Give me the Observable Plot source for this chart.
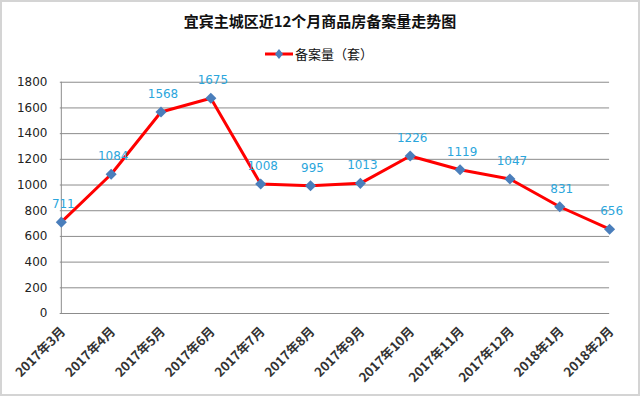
<!DOCTYPE html>
<html>
<head>
<meta charset="utf-8">
<script src="https://cdn.jsdelivr.net/npm/d3@7"></script>
<script src="https://cdn.jsdelivr.net/npm/@observablehq/plot@0.6"></script>
<style>
  body { margin: 0; background: #fff; }
  #wrap { position: relative; width: 640px; height: 396px; box-sizing: border-box; border: 2px solid #d4d4d4; overflow: hidden; background:#fff; }
  #chart { position: absolute; left: -2px; top: -2px; }
  #title { position: absolute; left: 0; width: 636px; top: 8px; text-align: center; font: bold 15px "Noto Sans CJK SC", sans-serif; color: #111; }
  #legend { position: absolute; left: 263px; top: 42px; font: 13px "Noto Sans CJK SC", sans-serif; color: #111; display: flex; align-items: center; }
  #legend svg { margin-right: 2px; }
</style>
</head>
<body>
<div id="wrap">
  <div id="chart"></div>
  <div id="title">宜宾主城区近12个月商品房备案量走势图</div>
  <div id="legend"><svg width="28" height="12"><line x1="0" y1="6" x2="28" y2="6" stroke="#ff0000" stroke-width="3"/><path d="M14,1 L18,6 L14,11 L10,6 Z" fill="#4a7ebb"/></svg><span>备案量（套）</span></div>
</div>
<script>
const months = ["2017年3月","2017年4月","2017年5月","2017年6月","2017年7月","2017年8月","2017年9月","2017年10月","2017年11月","2017年12月","2018年1月","2018年2月"];
const values = [711,1084,1568,1675,1008,995,1013,1226,1119,1047,831,656];
const yTicks = [0,200,400,600,800,1000,1200,1400,1600,1800];
const seriesName = "备案量（套）";

const data = months.map((m, i) => ({month: m, value: values[i]}));

const chart = Plot.plot({
  width: 640,
  height: 396,
  marginLeft: 60,
  marginRight: 29,
  marginTop: 82,
  marginBottom: 82,
  style: { fontFamily: "'DejaVu Sans', 'Noto Sans CJK SC', sans-serif", fontSize: "11px", color: "#222", background: "transparent" },
  x: { type: "point", domain: months, padding: 0, label: null },
  y: { domain: [0, 1800], ticks: yTicks, label: null },
  marks: [
    Plot.gridY(yTicks, { stroke: "#8c8c8c", strokeOpacity: 1, strokeWidth: 1 }),
    Plot.ruleX([months[0]], { stroke: "#8c8c8c", strokeWidth: 1 }),
    Plot.ruleY([0], { stroke: "#8c8c8c", strokeWidth: 1 }),
    Plot.axisY(yTicks, { tickSize: 0, tickPadding: 13, fontSize: 12, fill: "#222", tickFormat: "d", label: null }),
    Plot.axisX({ tickSize: 0, tickRotate: -45, tickPadding: 16, dx: 2, fontSize: 13, fontWeight: "bold", fill: "#333", fontFamily: "'Noto Sans CJK SC', sans-serif", label: null }),
    Plot.line(data, { x: "month", y: "value", stroke: "#ff0000", strokeWidth: 3 }),
    Plot.dot(data, { x: "month", y: "value", symbol: "diamond2", r: 5, fill: "#4a7ebb", stroke: "none" }),
    Plot.text(data, { x: "month", y: "value", text: d => String(d.value), dy: -18, dx: 2, fill: "#2ba6dc", fontSize: 12 })
  ]
});
document.getElementById("chart").appendChild(chart);
</script>
</body>
</html>
